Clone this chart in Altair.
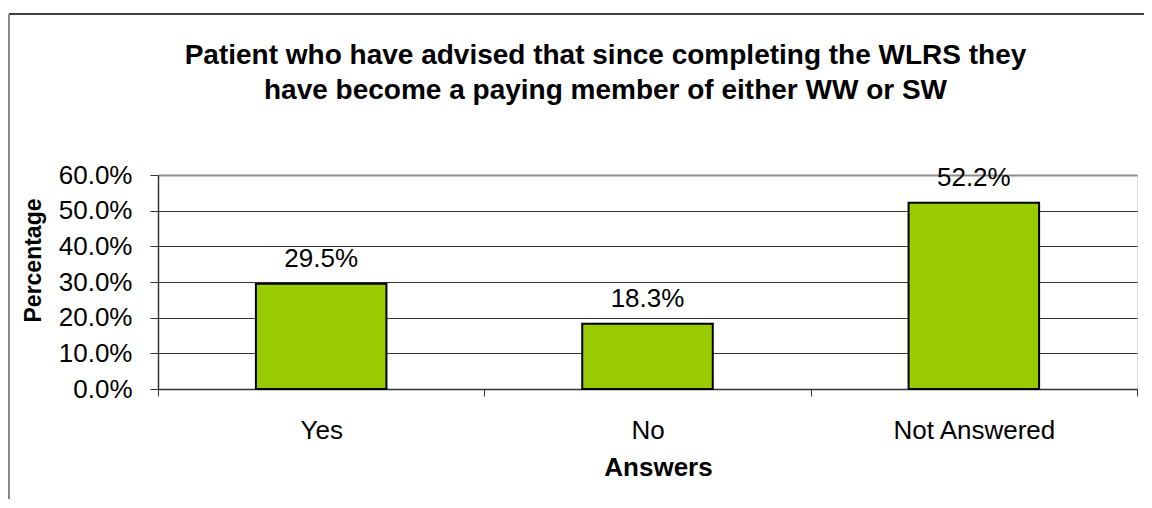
import altair as alt
import pandas as pd

categories = ["Yes", "No", "Not Answered"]
values = [0.295, 0.183, 0.522]
y_ticks = [0.0, 0.1, 0.2, 0.3, 0.4, 0.5, 0.6]
title_lines = [
    "Patient who have advised that since completing the WLRS they",
    "have become a paying member of either WW or SW",
]

FONT = "Liberation Sans, Arial, Helvetica, sans-serif"

df = pd.DataFrame({"answer": categories, "pct": values})

W, H = 979, 214

x_enc = alt.X(
    "answer:N",
    sort=categories,
    scale=alt.Scale(paddingInner=0, paddingOuter=0),
    axis=alt.Axis(
        title="Answers",
        titleFont=FONT,
        titleFontSize=26,
        titleFontWeight="bold",
        titleColor="black",
        titleX=500,
        titleY=78,
        titleBaseline="middle",
        titleAnchor="start",
        titleAlign="center",
        labelFont=FONT,
        labelFontSize=26,
        labelColor="black",
        labelAngle=0,
        labelBaseline="middle",
        labelPadding=34,
        tickBand="extent",
        tickSize=7,
        tickColor="#333333",
        domainColor="#333333",
        domainWidth=1.5,
        grid=False,
    ),
)

y_enc = alt.Y(
    "pct:Q",
    scale=alt.Scale(domain=[0, 0.6], nice=False),
    axis=alt.Axis(
        values=y_ticks,
        format=".1%",
        labelOverlap=False,
        title="Percentage",
        titleFont=FONT,
        titleFontSize=23,
        titleFontWeight="bold",
        titleColor="black",
        titleAngle=270,
        titleX=-125,
        titleY=85,
        titleAlign="center",
        titleBaseline="middle",
        labelFont=FONT,
        labelFontSize=26,
        labelColor="black",
        labelPadding=18,
        tickSize=8,
        tickColor="#333333",
        domainColor="#333333",
        domainWidth=1.5,
        grid=True,
        gridColor={"condition": {"test": "datum.value >= 0.6", "value": "#8c8c8c"}, "value": "#333333"},
        gridWidth={"condition": {"test": "datum.value >= 0.6", "value": 2}, "value": 1},
    ),
)

base = alt.Chart(df).encode(x=x_enc, y=y_enc)

bars = base.mark_bar(
    width=alt.RelativeBandSize(0.4),
    color="#99CC00",
    stroke="black",
    strokeWidth=2,
)

labels = base.mark_text(
    font=FONT, fontSize=26, color="black", baseline="middle", dy=-25
).encode(
    text=alt.Text("pct:Q", format=".1%"),
)

frame_df = pd.DataFrame({"k": [0]})
frame_top = alt.Chart(frame_df).mark_rule(color="black", strokeWidth=1.5).encode(
    x=alt.value(-149), x2=alt.value(1100), y=alt.value(-161)
)
frame_left = alt.Chart(frame_df).mark_rule(color="#888888", strokeWidth=2).encode(
    x=alt.value(-149), y=alt.value(-161), y2=alt.value(340)
)

chart = (
    alt.layer(frame_top, frame_left, bars, labels)
    .properties(
        width=W,
        height=H,
        title=alt.Title(
            title_lines,
            font=FONT,
            fontSize=28,
            fontWeight="bold",
            color="black",
            anchor="middle",
            dx=-42,
            offset=-92,
            lineHeight=35,
        ),
        autosize=alt.AutoSizeParams(type="none"),
        padding={"left": 150, "top": 167, "right": 7, "bottom": 110},
    )
    .configure_view(stroke="#8c8c8c", strokeWidth=2)
    .configure(background="white")
)

chart.save("out.html", embed_options={"renderer": "svg", "actions": False})
